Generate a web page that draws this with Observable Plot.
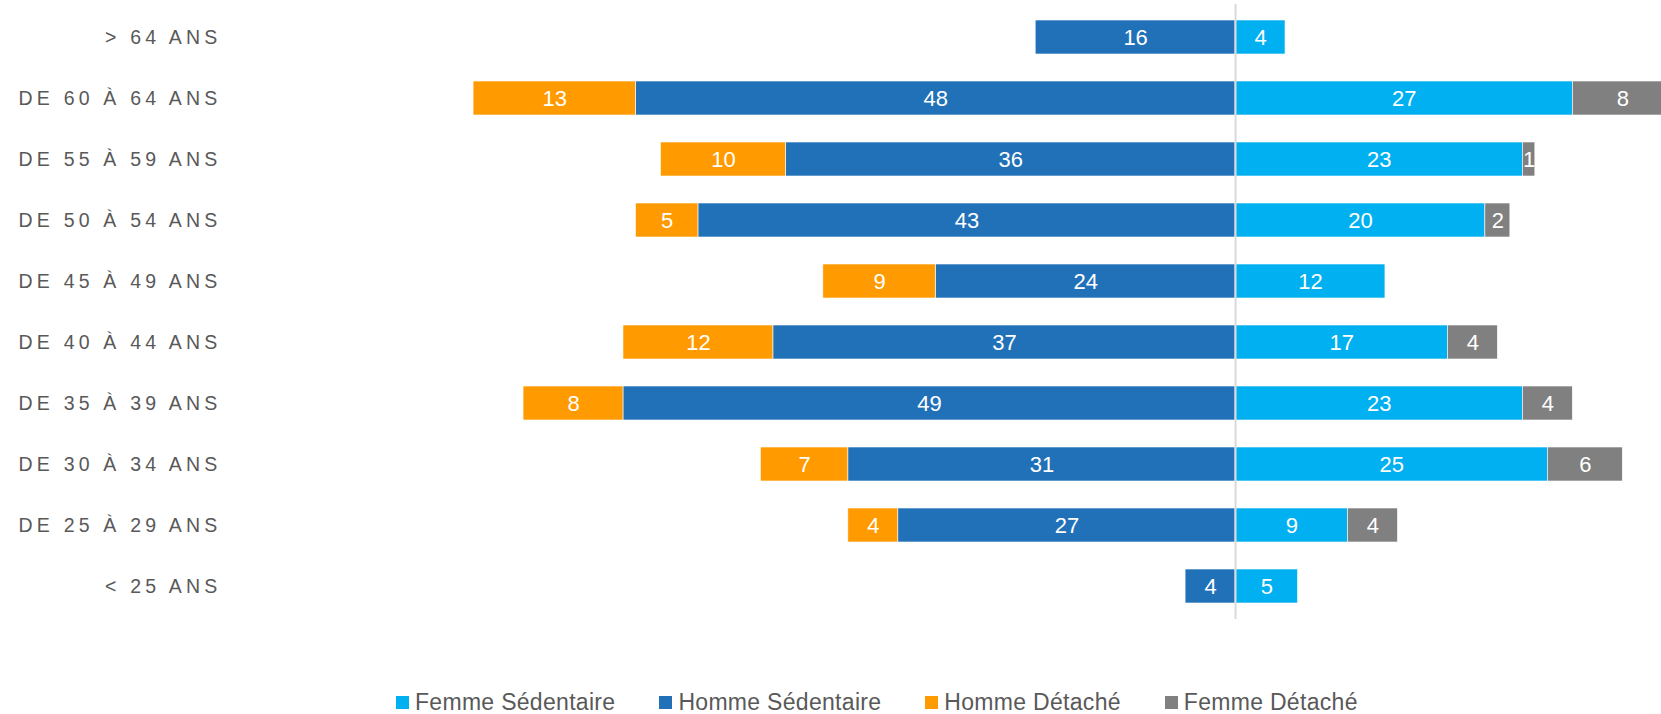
<!DOCTYPE html>
<html><head><meta charset="utf-8">
<script src="https://cdn.jsdelivr.net/npm/d3@7"></script>
<script src="https://cdn.jsdelivr.net/npm/@observablehq/plot@0.6"></script>
<style>
body{margin:0;background:#fff;font-family:"Liberation Sans",Arial,sans-serif;overflow:hidden;}
#legend{position:absolute;top:692px;left:396px;display:flex;font-size:23px;letter-spacing:0.3px;line-height:21px;height:21px;color:#595959;white-space:nowrap;}
#legend .it{display:flex;align-items:center;margin-right:44px;}
#legend .sw{width:13px;height:13px;margin-right:6px;}
</style></head><body>
<div id="chart"></div>
<div id="legend"></div>
<script>
const ages = ["> 64 ANS","DE 60 À 64 ANS","DE 55 À 59 ANS","DE 50 À 54 ANS","DE 45 À 49 ANS","DE 40 À 44 ANS","DE 35 À 39 ANS","DE 30 À 34 ANS","DE 25 À 29 ANS","< 25 ANS"];
const hommeSedentaire = [16,48,36,43,24,37,49,31,27,4];
const hommeDetache    = [0,13,10,5,9,12,8,7,4,0];
const femmeSedentaire = [4,27,23,20,12,17,23,25,9,5];
const femmeDetache    = [0,8,1,2,0,4,4,6,4,0];
const seriesNames = ["Femme Sédentaire","Homme Sédentaire","Homme Détaché","Femme Détaché"];
const seriesColors = ["#00B0F0","#2171B9","#FF9A00","#808080"];

const rows = [];
ages.forEach((a,i)=>{
  const hs=hommeSedentaire[i], hd=hommeDetache[i], fs=femmeSedentaire[i], fd=femmeDetache[i];
  rows.push({age:a, s:"Homme Sédentaire", v:hs, x1:-hs, x2:0});
  rows.push({age:a, s:"Homme Détaché", v:hd, x1:-hs-hd, x2:-hs});
  rows.push({age:a, s:"Femme Sédentaire", v:fs, x1:0, x2:fs});
  rows.push({age:a, s:"Femme Détaché", v:fd, x1:fs, x2:fs+fd});
});
const data = rows.filter(d=>d.v>0);

const chart = Plot.plot({
  width:1661, height:640,
  marginLeft:230, marginRight:0, marginTop:4, marginBottom:21,
  x:{domain:[-80.46,34.1], axis:null},
  y:{domain:ages, paddingInner:0.446, paddingOuter:0.23, label:null},
  color:{domain:seriesNames, range:seriesColors},
  style:{fontFamily:"Liberation Sans, Arial, sans-serif", background:"#fff"},
  marks:[
    Plot.barX(data,{y:"age", x1:"x1", x2:"x2", fill:"s", stroke:"#fff", strokeWidth:0.6, clip:true}),
    Plot.ruleX([0],{stroke:"#d9d9d9", strokeWidth:2}),
    Plot.text(data,{y:"age", x:d=>(d.x1+d.x2)/2, text:d=>String(d.v), fill:"#fff", fontSize:22}),
    Plot.axisY({tickSize:0, tickPadding:9, fontSize:19.5, fill:"#595959", label:null})
  ]
});
d3.select(chart).selectAll("g[aria-label='y-axis tick label'] text").style("letter-spacing","4.2px");
document.getElementById("chart").appendChild(chart);

const lg = d3.select("#legend");
seriesNames.forEach((n,i)=>{
  const it = lg.append("div").attr("class","it");
  it.append("div").attr("class","sw").style("background",seriesColors[i]);
  it.append("span").text(n);
});
</script>
</body></html>
